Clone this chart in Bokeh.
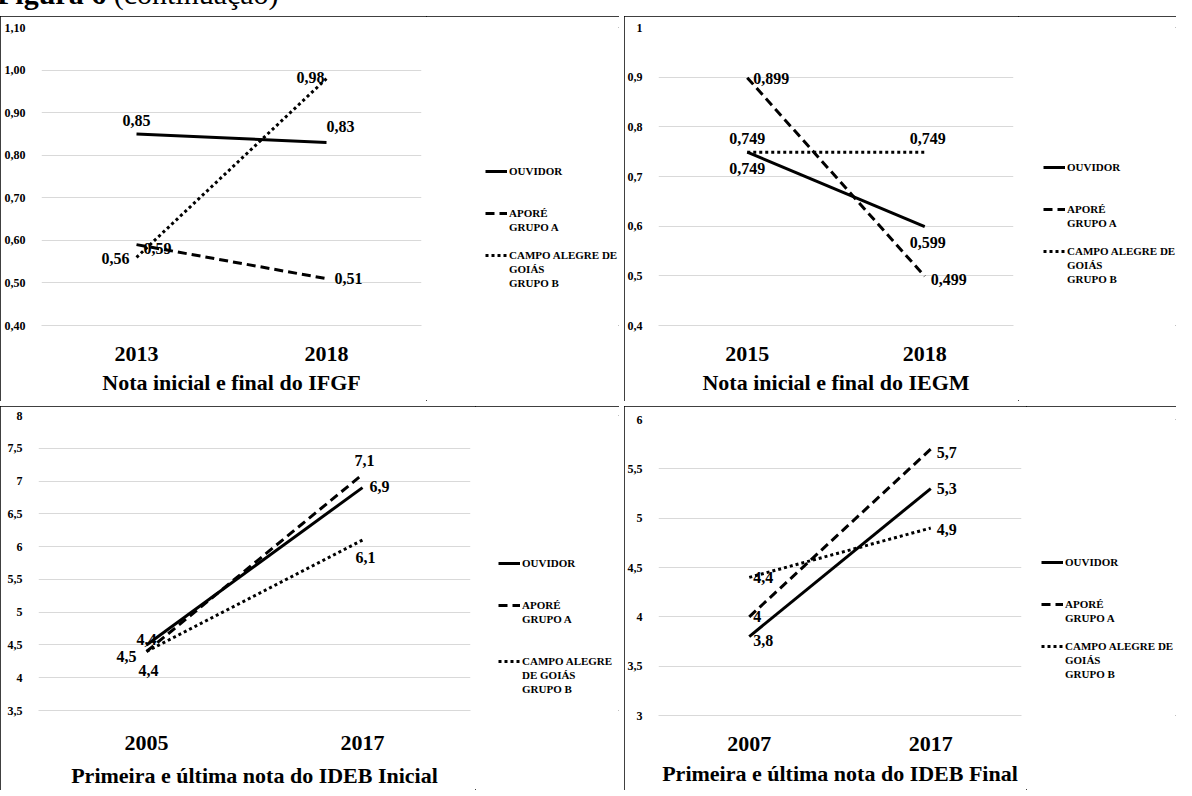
from bokeh.plotting import figure
from bokeh.models import (Range1d, FactorRange, Legend, LegendItem, ColumnDataSource,
                          Div, FixedTicker, CustomJSTickFormatter, Spacer, Row)
from bokeh.layouts import column, row
from bokeh.embed import file_html
from bokeh.resources import INLINE
from bokeh.core.properties import value

FONT = "Liberation Serif"

# ---------------- data ----------------
series_names = ["OUVIDOR", "APORÉ\nGRUPO A", "CAMPO ALEGRE DE\nGOIÁS\nGRUPO B"]
series_names_ideb_ini = ["OUVIDOR", "APORÉ\nGRUPO A", "CAMPO ALEGRE\nDE GOIÁS\nGRUPO B"]

ifgf_years = ["2013", "2018"]
ifgf_ouvidor = [0.85, 0.83]
ifgf_apore = [0.59, 0.51]
ifgf_campo = [0.56, 0.98]
ifgf_ticks = [0.40, 0.50, 0.60, 0.70, 0.80, 0.90, 1.00, 1.10]

iegm_years = ["2015", "2018"]
iegm_ouvidor = [0.749, 0.599]
iegm_apore = [0.899, 0.499]
iegm_campo = [0.749, 0.749]
iegm_ticks = [0.4, 0.5, 0.6, 0.7, 0.8, 0.9, 1.0]

idebi_years = ["2005", "2017"]
idebi_ouvidor = [4.5, 6.9]
idebi_apore = [4.4, 7.1]
idebi_campo = [4.4, 6.1]
idebi_ticks = [3.5, 4.0, 4.5, 5.0, 5.5, 6.0, 6.5, 7.0, 7.5, 8.0]

idebf_years = ["2007", "2017"]
idebf_ouvidor = [3.8, 5.3]
idebf_apore = [4.0, 5.7]
idebf_campo = [4.4, 4.9]
idebf_ticks = [3.0, 3.5, 4.0, 4.5, 5.0, 5.5, 6.0]

titles = ["Nota inicial e final do IFGF", "Nota inicial e final do IEGM",
          "Primeira e última nota do IDEB Inicial", "Primeira e última nota do IDEB Final"]

# ---------------- styles ----------------
DASHES = ["solid", "9 5", "3 3"]

# label placement per series per point: (align, dx, dy) in pixels (dy down)
place_ifgf = [[("center", 0, -13), ("center", 14, -16)],
              [("left", 7, 4), ("left", 8, 0)],
              [("right", -7, 1), ("right", -2, -1)]]
place_iegm = [[("center", 0, 16), ("center", 3, 16)],
              [("left", 6, 1), ("left", 6, 3)],
              [("center", 0, -14), ("center", 3, -14)]]
place_idebi = [[("right", -10, 12), ("left", 7, -1)],
               [("center", 0, -12), ("center", 2, -14)],
               [("center", 2, 19), ("center", 3, 17)]]
place_idebf = [[("left", 4, 4), ("left", 6, 0)],
               [("left", 4, 0), ("left", 6, 3)],
               [("left", 4, 0), ("left", 6, 1)]]

# blank legend rows placed before each entry (legend layout)
GAPS_A = [0, 2, 1]
GAPS_B = [0, 2, 2]


def fmt(v):
    return f"{v:g}".replace(".", ",")


def make_panel(years, series, names, ticks, yfmt_js, title, place,
               width, height, b_left, b_top, b_bottom, frame_w,
               legend_xy, gaps, tick_standoff, label_standoff):
    main_w = b_left + frame_w + 5
    p = figure(x_range=FactorRange(*years), y_range=Range1d(ticks[0], ticks[-1]),
               width=main_w, height=height, output_backend="svg", toolbar_location=None,
               min_border_left=b_left, min_border_top=b_top, min_border_bottom=b_bottom,
               min_border_right=5)
    p.outline_line_color = None
    p.background_fill_color = "white"
    p.border_fill_color = "white"

    p.xgrid.grid_line_color = None
    p.ygrid.grid_line_color = "#d9d9d9"
    p.ygrid.grid_line_width = 1
    p.ygrid.ticker = FixedTicker(ticks=ticks)

    p.yaxis.ticker = FixedTicker(ticks=ticks)
    p.yaxis.formatter = CustomJSTickFormatter(code=yfmt_js)
    p.yaxis.axis_line_color = None
    p.yaxis.major_tick_line_color = None
    p.yaxis.minor_tick_line_color = None
    p.yaxis.major_label_text_font = FONT
    p.yaxis.major_label_text_font_style = "bold"
    p.yaxis.major_label_text_font_size = "12px"
    p.yaxis.major_label_text_color = "black"
    p.yaxis.major_label_standoff = 10

    p.xaxis.axis_line_color = "#d9d9d9"
    p.xaxis.major_tick_line_color = None
    p.xaxis.major_label_text_font = FONT
    p.xaxis.major_label_text_font_style = "bold"
    p.xaxis.major_label_text_font_size = "22px"
    p.xaxis.major_label_text_color = "black"
    p.xaxis.major_label_standoff = tick_standoff
    p.xaxis.axis_label = title
    p.xaxis.axis_label_text_font = FONT
    p.xaxis.axis_label_text_font_style = "bold"
    p.xaxis.axis_label_text_font_size = "22px"
    p.xaxis.axis_label_text_color = "black"
    p.xaxis.axis_label_standoff = label_standoff

    xs, ys, txt, al, dx, dy = [], [], [], [], [], []
    for vals, dash, pl in zip(series, DASHES, place):
        p.line(x=years, y=vals, line_width=3, line_color="black", line_dash=dash)
        for yr, v, (a, ox, oy) in zip(years, vals, pl):
            xs.append(yr); ys.append(v); txt.append(fmt(v))
            al.append(a); dx.append(ox); dy.append(oy)
    src = ColumnDataSource(dict(x=xs, y=ys, text=txt, align=al, dx=dx, dy=dy))
    p.text(x="x", y="y", text="text", x_offset="dx", y_offset="dy",
           text_align="align", text_baseline="middle", source=src,
           text_font=value(FONT), text_font_style="bold", text_font_size="16px",
           text_color="black")

    # legend area: its own figure, holding hidden copies of the series lines
    lf = figure(width=width - main_w, height=height, x_range=FactorRange(*years),
                y_range=Range1d(ticks[0], ticks[-1]), output_backend="svg",
                toolbar_location=None, min_border=0)
    lf.axis.visible = False
    lf.grid.visible = False
    lf.outline_line_color = None
    lf.background_fill_color = "white"
    lf.border_fill_color = "white"
    items = []
    for vals, name, dash, gap in zip(series, names, DASHES, gaps):
        blank = lf.line(x=years, y=vals, line_alpha=0, visible=False)
        for _ in range(gap):
            items.append(LegendItem(label=" ", renderers=[blank]))
        r = lf.line(x=years, y=vals, line_width=3, line_color="black", line_dash=dash,
                    visible=False)
        lines = name.split("\n")
        items.append(LegendItem(label=lines[0], renderers=[r]))
        for extra in lines[1:]:
            items.append(LegendItem(label=extra, renderers=[blank]))
    leg = Legend(items=items, location=legend_xy)
    leg.border_line_color = None
    leg.background_fill_alpha = 0
    leg.inactive_fill_alpha = 0
    leg.padding = 0
    leg.margin = 0
    leg.spacing = 0
    leg.glyph_width = 22
    leg.glyph_height = 14
    leg.label_height = 14
    leg.label_standoff = 2
    leg.label_text_font = FONT
    leg.label_text_font_style = "bold"
    leg.label_text_font_size = "11px"
    leg.label_text_color = "black"
    lf.add_layout(leg)

    return Row(children=[p, lf], width=width, height=height,
               styles={"outline": "1.5px solid black", "outline-offset": "-1.5px"})


FMT2 = "return tick.toFixed(2).replace('.', ',');"
FMTG = "return String(Math.round(tick*10)/10).replace('.', ',');"

p1 = make_panel(ifgf_years, [ifgf_ouvidor, ifgf_apore, ifgf_campo], series_names,
                ifgf_ticks, FMT2, titles[0], place_ifgf,
                619, 385, 41, 11, 76, 380, (59, 35), GAPS_A, 15, 6)
p2 = make_panel(iegm_years, [iegm_ouvidor, iegm_apore, iegm_campo], series_names,
                iegm_ticks, FMTG, titles[1], place_iegm,
                552, 385, 33, 11, 76, 356, (25, 39), GAPS_A, 15, 6)
p3 = make_panel(idebi_years, [idebi_ouvidor, idebi_apore, idebi_campo], series_names_ideb_ini,
                idebi_ticks, FMTG, titles[2], place_idebi,
                619, 384, 38, 9, 78, 432, (23, 14), GAPS_B, 19, 10)
p4 = make_panel(idebf_years, [idebf_ouvidor, idebf_apore, idebf_campo], series_names,
                idebf_ticks, FMTG, titles[3], place_idebf,
                552, 384, 33, 13, 75, 364, (15, 34), GAPS_A, 15, 7)

title_div = Div(
    text=("<div style=\"position:relative; top:-27px; left:-8px; white-space:nowrap; "
          "font-family:'Liberation Serif'; font-size:30px; line-height:32px; color:black\">"
          "<b>Figura 6</b> (continuação)</div>"),
    width=1176, height=6, styles={"overflow": "visible"})

layout = column(title_div,
                row(p1, Spacer(width=5), p2),
                Spacer(height=5),
                row(p3, Spacer(width=5), p4))

open("out.html", "w").write(file_html(layout, INLINE))
